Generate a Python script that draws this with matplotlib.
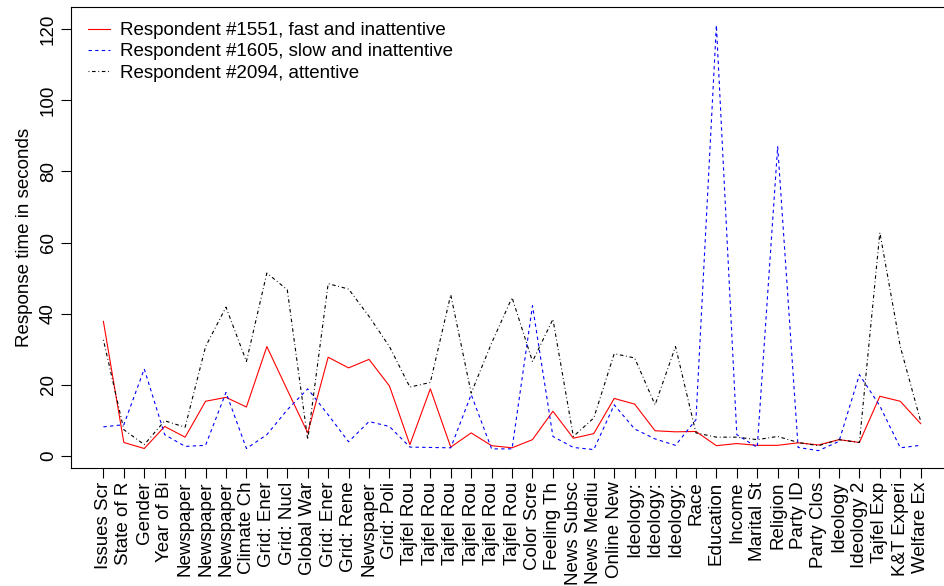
import numpy as np
import matplotlib.pyplot as plt

plt.rcParams['font.family'] = ['Liberation Sans', 'DejaVu Sans']

# question labels (truncated as in the survey export)
questions = ["Issues Scr", "State of R", "Gender", "Year of Bi", "Newspaper", "Newspaper",
             "Newspaper", "Climate Ch", "Grid: Ener", "Grid: Nucl", "Global War", "Grid: Ener",
             "Grid: Rene", "Newspaper", "Grid: Poli", "Tajfel Rou", "Tajfel Rou", "Tajfel Rou",
             "Tajfel Rou", "Tajfel Rou", "Tajfel Rou", "Color Scre", "Feeling Th", "News Subsc",
             "News Mediu", "Online New", "Ideology:", "Ideology:", "Ideology:", "Race",
             "Education", "Income", "Marital St", "Religion", "Party ID", "Party Clos",
             "Ideology", "Ideology 2", "Tajfel Exp", "K&T Experi", "Welfare Ex"]

# response times in seconds
r1551 = [37.8, 3.7, 2.0, 8.2, 5.2, 15.3, 16.4, 13.7, 30.7, 18.5, 6.4, 27.7, 24.7, 27.1,
         19.6, 3.1, 18.8, 2.4, 6.4, 2.8, 2.2, 4.5, 12.5, 4.9, 6.2, 16.1, 14.5, 7.0, 6.7,
         6.8, 2.8, 3.4, 2.9, 2.9, 3.6, 3.0, 4.5, 3.7, 16.7, 15.3, 9.0]
r1605 = [8.1, 8.7, 24.4, 5.9, 2.6, 2.9, 17.8, 2.0, 5.9, 12.9, 18.8, 11.5, 3.9, 9.6,
         8.2, 2.4, 2.3, 2.2, 17.2, 1.9, 1.9, 42.2, 5.4, 2.3, 1.7, 14.3, 7.5, 4.7, 2.9,
         10.1, 121.2, 5.9, 2.3, 87.0, 2.3, 1.4, 4.0, 22.8, 14.0, 2.2, 2.9]
r2094 = [32.6, 7.3, 3.1, 9.8, 8.0, 30.7, 41.8, 26.5, 51.4, 46.7, 4.5, 48.4, 46.9, 39.2,
         30.7, 19.3, 20.6, 45.3, 17.6, 31.7, 44.5, 26.5, 38.4, 5.4, 10.6, 28.7, 27.5, 14.3,
         30.7, 6.4, 5.2, 5.2, 4.5, 5.4, 3.7, 2.8, 4.5, 3.7, 62.8, 30.7, 9.6]

x = np.arange(len(questions))
fs = 13.5

fig = plt.figure(figsize=(9.44, 5.86), dpi=100)
ax = fig.add_axes([70.7 / 944, 1 - 467.7 / 586, (953.4 - 70.7) / 944, (467.7 - 7) / 586])

ax.plot(x, r1551, color='red', lw=0.8, label="Respondent #1551, fast and inattentive")
ax.plot(x, r1605, color='blue', lw=0.8, dashes=(3, 3), label="Respondent #1605, slow and inattentive")
ax.plot(x, r2094, color='black', lw=0.8, dashes=(0.8, 2.4, 3.2, 2.4), label="Respondent #2094, attentive")

ax.set_xlim(-1.6, 41.6)
ax.set_ylim(-3.4, 126.3)
ax.set_xticks(x)
ax.set_xticklabels(questions, rotation=90, fontsize=fs)
ax.set_yticks([0, 20, 40, 60, 80, 100, 120])
ax.set_yticklabels(['0', '20', '40', '60', '80', '100', '120'], rotation=90, va='center', fontsize=fs)
ax.tick_params(direction='out', length=7, width=0.8, pad=3)
ax.set_ylabel("Response time in seconds", fontsize=fs, labelpad=5)
for s in ax.spines.values():
    s.set_linewidth(0.8)

ax.legend(loc='upper left', bbox_to_anchor=(88 / 944, 1 - 22 / 586), bbox_transform=fig.transFigure,
          frameon=False, fontsize=fs, handlelength=1.15, handletextpad=0.55,
          labelspacing=0.22, borderpad=0, borderaxespad=0)

fig.savefig("out.png", dpi=100)
